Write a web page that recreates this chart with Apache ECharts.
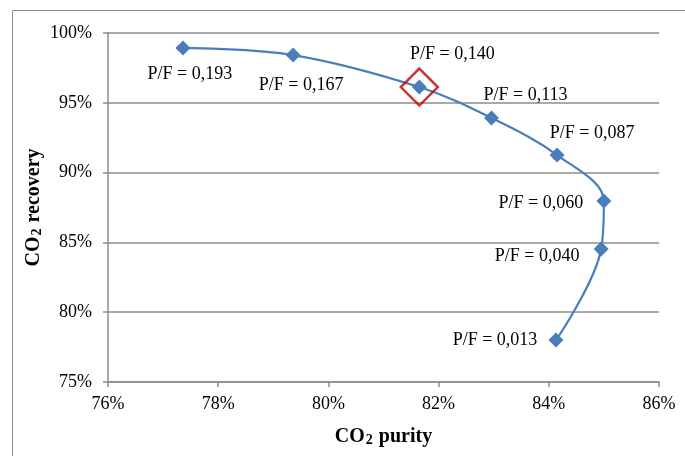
<!DOCTYPE html>
<html>
<head>
<meta charset="utf-8">
<script src="https://cdn.jsdelivr.net/npm/echarts@6/dist/echarts.min.js"></script>
<style>html,body{margin:0;padding:0;background:#fff}#c{width:685px;height:456px}</style>
</head>
<body>
<div id="c"></div>
<script>
// Data
var purity = [77.36, 79.36, 81.65, 82.96, 84.15, 85.0, 84.95, 84.13];
var recovery = [98.93, 98.42, 96.13, 93.91, 91.26, 87.97, 84.53, 78.0];
var pfLabels = ['0,193', '0,167', '0,140', '0,113', '0,087', '0,060', '0,040', '0,013'];
var highlightIndex = 2;
var xTicks = { min: 76, max: 86, step: 2 };
var yTicks = { min: 75, max: 100, step: 5 };

// Label placement (styling, pixels relative to marker centre)
var labelOffsets = [[7, 26], [8, 30], [33, -33], [34, -23], [35, -22], [-63, 2], [-64, 7], [-61, 0]];

var FONT = '"Liberation Serif", "Times New Roman", serif';
var blue = '#4a7ebb';
var gray = '#8c8c8c';

var lineData = purity.map(function (p, i) {
  return {
    value: [p, recovery[i]],
    label: {
      show: true,
      formatter: 'P/F = ' + pfLabels[i],
      position: 'inside',
      offset: labelOffsets[i],
      align: 'center',
      verticalAlign: 'middle',
      color: '#000',
      fontFamily: FONT,
      fontSize: 18
    }
  };
});

var titleStyle = {
  fontFamily: FONT, fontSize: 20, fontWeight: 'bold', color: '#000',
  rich: {
    a: { fontFamily: FONT, fontSize: 20, fontWeight: 'bold', color: '#000' },
    s: { fontFamily: FONT, fontSize: 14, fontWeight: 'bold', color: '#000', verticalAlign: 'bottom', lineHeight: 20, padding: [0, 1, 0, 1] }
  }
};

var chart = echarts.init(document.getElementById('c'), null, { renderer: 'canvas' });
chart.setOption({
  animation: false,
  backgroundColor: '#fff',
  graphic: [{
    type: 'rect',
    shape: { x: 12.5, y: 10.5, width: 720, height: 500 },
    style: { fill: 'none', stroke: gray, lineWidth: 1 },
    silent: true,
    z: -1
  }],
  grid: { left: 108, right: 26, top: 33, bottom: 74, containLabel: false },
  xAxis: {
    type: 'value',
    min: xTicks.min, max: xTicks.max, interval: xTicks.step,
    name: '{a|CO}{s|2}{a| purity}',
    nameLocation: 'middle',
    nameGap: 45,
    nameMoveOverlap: false,
    nameTextStyle: titleStyle,
    axisLine: { show: true, lineStyle: { color: gray, width: 1.5 } },
    axisTick: { show: true, inside: false, length: 5, lineStyle: { color: gray, width: 1.5 } },
    axisLabel: { fontFamily: FONT, fontSize: 18, color: '#000', margin: 13, formatter: function (v) { return v + '%'; } },
    splitLine: { show: false }
  },
  yAxis: {
    type: 'value',
    min: yTicks.min, max: yTicks.max, interval: yTicks.step,
    name: '{a|CO}{s|2}{a| recovery}',
    nameLocation: 'middle',
    nameGap: 64,
    nameMoveOverlap: false,
    nameTextStyle: titleStyle,
    axisLine: { show: true, lineStyle: { color: gray, width: 1.5 } },
    axisTick: { show: true, inside: false, length: 5, lineStyle: { color: gray, width: 1.5 } },
    axisLabel: { fontFamily: FONT, fontSize: 18, color: '#000', margin: 16, formatter: function (v) { return v + '%'; } },
    splitLine: { show: true, lineStyle: { color: gray, width: 1.5 } }
  },
  series: [{
    type: 'line',
    data: lineData,
    smooth: 0.35,
    symbol: 'diamond',
    symbolSize: 15,
    lineStyle: { color: blue, width: 2.2 },
    itemStyle: { color: blue },
    z: 3
  }, {
    type: 'scatter',
    data: [[purity[highlightIndex], recovery[highlightIndex]]],
    symbol: 'diamond',
    symbolSize: 37,
    itemStyle: { color: 'none', borderColor: '#c00000', borderWidth: 2.5 },
    z: 4,
    silent: true
  }]
});
</script>
</body>
</html>
